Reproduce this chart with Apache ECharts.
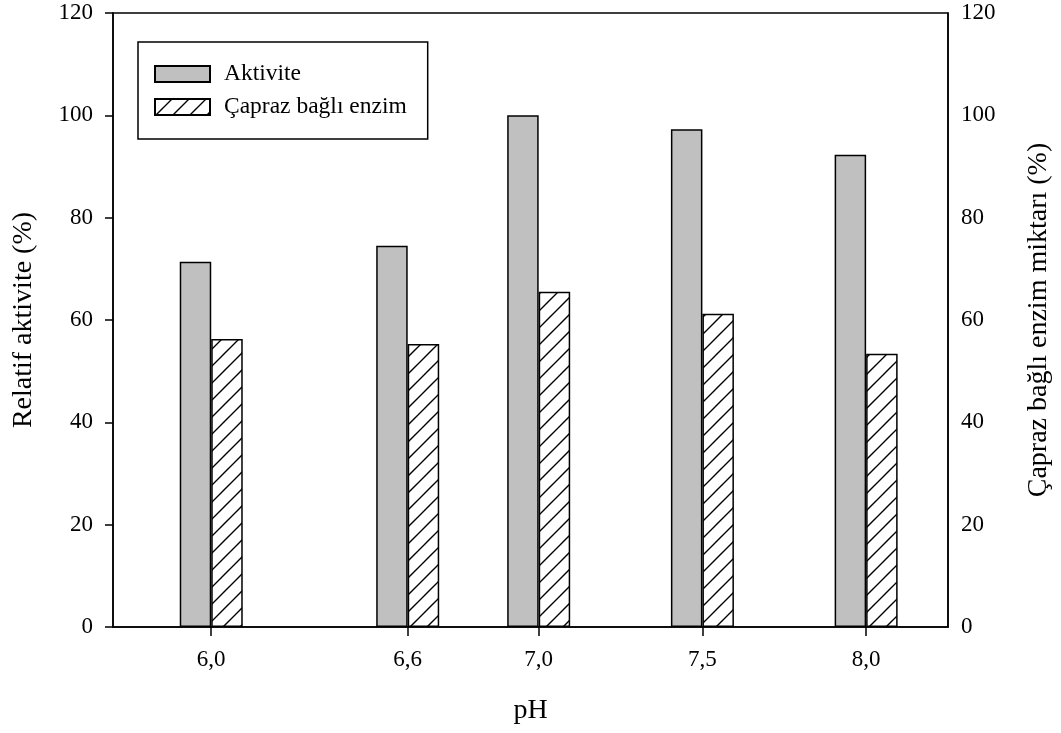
<!DOCTYPE html>
<html>
<head>
<meta charset="utf-8">
<script src="https://cdn.jsdelivr.net/npm/echarts@6/dist/echarts.min.js"></script>
<style>
html,body{margin:0;padding:0;background:#fff;}
#c{width:1061px;height:733px;}
</style>
</head>
<body>
<div id="c"></div>
<script>
const phValues = [6.0, 6.6, 7.0, 7.5, 8.0];
const phLabels = ['6,0', '6,6', '7,0', '7,5', '8,0'];
const aktivite = [71.4, 74.5, 100, 97.3, 92.3];
const caprazBagli = [56.3, 55.3, 65.5, 61.2, 53.4];
const seriesNames = ['Aktivite', 'Çapraz bağlı enzim'];

const FONT = "'Liberation Serif','Times New Roman',serif";

function hatch() {
  const s = 17;
  const cv = document.createElement('canvas');
  cv.width = s; cv.height = s;
  const ctx = cv.getContext('2d');
  ctx.fillStyle = '#fff';
  ctx.fillRect(0, 0, s, s);
  ctx.strokeStyle = '#000';
  ctx.lineWidth = 1.4;
  ctx.beginPath();
  ctx.moveTo(-1, s + 1); ctx.lineTo(s + 1, -1);
  ctx.moveTo(-2, 2); ctx.lineTo(2, -2);
  ctx.moveTo(s - 2, s + 2); ctx.lineTo(s + 2, s - 2);
  ctx.stroke();
  return cv;
}

function labelFor(v) {
  for (let i = 0; i < phValues.length; i++) {
    if (Math.abs(phValues[i] - v) < 1e-6) return phLabels[i];
  }
  return '';
}

const chart = echarts.init(document.getElementById('c'), null, {renderer: 'canvas'});
chart.setOption({
  animation: false,
  backgroundColor: '#fff',
  textStyle: {fontFamily: FONT},
  grid: {
    left: 113, right: 109, top: 13, bottom: 106,
    show: true, borderColor: '#000', borderWidth: 1.5, backgroundColor: 'transparent'
  },
  legend: {
    orient: 'vertical',
    left: 138, top: 42,
    padding: [20, 21, 20, 16],
    borderColor: '#000', borderWidth: 1.5,
    itemWidth: 55, itemHeight: 16, itemGap: 9,
    icon: 'rect',
    textStyle: {fontFamily: FONT, fontSize: 23.5, color: '#000', lineHeight: 23, padding: [0, 0, 0, 9]},
    data: seriesNames
  },
  xAxis: {
    type: 'value', min: 5.7, max: 8.25,
    name: 'pH', nameLocation: 'middle', nameGap: 70,
    nameTextStyle: {fontFamily: FONT, fontSize: 28, color: '#000'},
    axisLine: {show: true, lineStyle: {color: '#000', width: 1.5}},
    axisTick: {show: true, inside: false, length: 9, customValues: phValues, lineStyle: {color: '#000', width: 1.5}},
    axisLabel: {customValues: phValues, formatter: labelFor, margin: 21, fontFamily: FONT, fontSize: 23, color: '#000'},
    splitLine: {show: false}
  },
  yAxis: [
    {
      type: 'value', min: 0, max: 120, interval: 20, position: 'left',
      name: 'Relatif aktivite (%)', nameLocation: 'middle', nameGap: 75, nameRotate: 90,
      nameTextStyle: {fontFamily: FONT, fontSize: 28, color: '#000'},
      axisLine: {show: true, lineStyle: {color: '#000', width: 1.5}},
      axisTick: {show: true, inside: false, length: 8, lineStyle: {color: '#000', width: 1.5}},
      axisLabel: {margin: 20, fontFamily: FONT, fontSize: 23, color: '#000'},
      splitLine: {show: false}
    },
    {
      type: 'value', min: 0, max: 120, interval: 20, position: 'right',
      name: 'Çapraz bağlı enzim miktarı (%)', nameLocation: 'middle', nameGap: 77, nameRotate: 90,
      nameTextStyle: {fontFamily: FONT, fontSize: 28, color: '#000'},
      axisLine: {show: true, lineStyle: {color: '#000', width: 1.5}},
      axisTick: {show: false},
      axisLabel: {margin: 13, fontFamily: FONT, fontSize: 23, color: '#000'},
      splitLine: {show: false}
    }
  ],
  series: [
    {
      name: seriesNames[0], type: 'bar', xAxisIndex: 0, yAxisIndex: 0,
      barWidth: 31.5, barGap: '0%',
      itemStyle: {color: '#c0c0c0', borderColor: '#000', borderWidth: 1.5},
      data: phValues.map((x, i) => [x, aktivite[i]])
    },
    {
      name: seriesNames[1], type: 'bar', xAxisIndex: 0, yAxisIndex: 1,
      barWidth: 31.5, barGap: '0%',
      itemStyle: {color: {image: hatch(), repeat: 'repeat'}, borderColor: '#000', borderWidth: 1.5},
      data: phValues.map((x, i) => [x, caprazBagli[i]])
    }
  ]
});
</script>
</body>
</html>
